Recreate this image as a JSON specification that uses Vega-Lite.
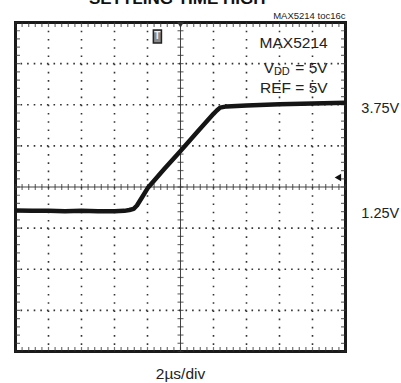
{
  "$schema": "https://vega.github.io/schema/vega-lite/v6.json",
  "width": 330,
  "height": 329,
  "autosize": "none",
  "padding": {"left": 15.5, "top": 22.5, "right": 55.5, "bottom": 31.5},
  "background": "white",
  "config": {"view": {"stroke": "#1a1a1a", "strokeWidth": 3}, "text": {"font": "Liberation Sans"}},
  "datasets": {
    "one": [{}],
    "xs": [{"v":0},{"v":0.2},{"v":0.4},{"v":0.6},{"v":0.8},{"v":1},{"v":1.2},{"v":1.4},{"v":1.6},{"v":1.8},{"v":2},{"v":2.2},{"v":2.4},{"v":2.6},{"v":2.8},{"v":3},{"v":3.2},{"v":3.4},{"v":3.6},{"v":3.8},{"v":4},{"v":4.2},{"v":4.4},{"v":4.6},{"v":4.8},{"v":5},{"v":5.2},{"v":5.4},{"v":5.6},{"v":5.8},{"v":6},{"v":6.2},{"v":6.4},{"v":6.6},{"v":6.8},{"v":7},{"v":7.2},{"v":7.4},{"v":7.6},{"v":7.8},{"v":8},{"v":8.2},{"v":8.4},{"v":8.6},{"v":8.8},{"v":9},{"v":9.2},{"v":9.4},{"v":9.6},{"v":9.8},{"v":10}],
    "ys": [{"v":0},{"v":0.2},{"v":0.4},{"v":0.6},{"v":0.8},{"v":1},{"v":1.2},{"v":1.4},{"v":1.6},{"v":1.8},{"v":2},{"v":2.2},{"v":2.4},{"v":2.6},{"v":2.8},{"v":3},{"v":3.2},{"v":3.4},{"v":3.6},{"v":3.8},{"v":4},{"v":4.2},{"v":4.4},{"v":4.6},{"v":4.8},{"v":5},{"v":5.2},{"v":5.4},{"v":5.6},{"v":5.8},{"v":6},{"v":6.2},{"v":6.4},{"v":6.6},{"v":6.8},{"v":7},{"v":7.2},{"v":7.4},{"v":7.6},{"v":7.8},{"v":8}],
    "gx": [{"v":1},{"v":2},{"v":3},{"v":4},{"v":6},{"v":7},{"v":8},{"v":9}],
    "gy": [{"v":1},{"v":2},{"v":3},{"v":5},{"v":6},{"v":7}],
    "trace": [
      {"t":0,"v":3.43},{"t":0.5,"v":3.42},{"t":1,"v":3.42},{"t":1.5,"v":3.41},{"t":2,"v":3.42},{"t":2.5,"v":3.41},{"t":3,"v":3.41},{"t":3.3,"v":3.42},{"t":3.45,"v":3.44},{"t":3.58,"v":3.47},{"t":3.68,"v":3.55},{"t":3.85,"v":3.77},{"t":4.02,"v":3.99},{"t":4.5,"v":4.43},{"t":4.98,"v":4.86},{"t":5.5,"v":5.33},{"t":6.0,"v":5.78},{"t":6.1,"v":5.86},{"t":6.2,"v":5.93},{"t":6.4,"v":5.96},{"t":7,"v":5.98},{"t":8,"v":6.01},{"t":9,"v":6.03},{"t":10,"v":6.05}
    ]
  },
  "layer": [
    {
      "data": {"name": "gx"},
      "mark": {"type": "rule", "color": "#333", "strokeWidth": 1.6, "strokeDash": [1.6, 6.625]},
      "encoding": {"x": {"field": "v", "type": "quantitative", "scale": {"domain": [0, 10], "nice": false, "zero": false}, "axis": null}}
    },
    {
      "data": {"name": "gy"},
      "mark": {"type": "rule", "color": "#333", "strokeWidth": 1.6, "strokeDash": [1.6, 5.0]},
      "encoding": {"y": {"field": "v", "type": "quantitative", "scale": {"domain": [0, 8], "nice": false, "zero": false}, "axis": null}}
    },
    {
      "data": {"name": "one"},
      "mark": {"type": "rule", "color": "#444", "strokeWidth": 1},
      "encoding": {"x": {"datum": 5, "type": "quantitative"}}
    },
    {
      "data": {"name": "one"},
      "mark": {"type": "rule", "color": "#444", "strokeWidth": 1.2},
      "encoding": {"y": {"datum": 4, "type": "quantitative"}}
    },
    {
      "data": {"name": "xs"},
      "mark": {"type": "tick", "orient": "vertical", "color": "#333", "size": 6, "thickness": 1.2},
      "encoding": {"x": {"field": "v", "type": "quantitative"}, "y": {"datum": 4, "type": "quantitative"}}
    },
    {
      "data": {"name": "ys"},
      "mark": {"type": "tick", "orient": "horizontal", "color": "#333", "size": 6, "thickness": 1.2},
      "encoding": {"y": {"field": "v", "type": "quantitative"}, "x": {"datum": 5, "type": "quantitative"}}
    },
    {
      "data": {"name": "xs"},
      "mark": {"type": "tick", "orient": "vertical", "color": "#333", "size": 9, "thickness": 1.2, "clip": true},
      "encoding": {"x": {"field": "v", "type": "quantitative"}, "y": {"datum": 0, "type": "quantitative"}}
    },
    {
      "data": {"name": "xs"},
      "mark": {"type": "tick", "orient": "vertical", "color": "#333", "size": 9, "thickness": 1.2, "clip": true},
      "encoding": {"x": {"field": "v", "type": "quantitative"}, "y": {"datum": 8, "type": "quantitative"}}
    },
    {
      "data": {"name": "ys"},
      "mark": {"type": "tick", "orient": "horizontal", "color": "#333", "size": 9, "thickness": 1.2, "clip": true},
      "encoding": {"y": {"field": "v", "type": "quantitative"}, "x": {"datum": 0, "type": "quantitative"}}
    },
    {
      "data": {"name": "ys"},
      "mark": {"type": "tick", "orient": "horizontal", "color": "#333", "size": 9, "thickness": 1.2, "clip": true},
      "encoding": {"y": {"field": "v", "type": "quantitative"}, "x": {"datum": 10, "type": "quantitative"}}
    },
    {
      "data": {"name": "trace"},
      "mark": {"type": "line", "color": "#151515", "strokeWidth": 4.5, "strokeJoin": "round"},
      "encoding": {"x": {"field": "t", "type": "quantitative"}, "y": {"field": "v", "type": "quantitative"}}
    },
    {
      "data": {"name": "one"},
      "mark": {"type": "point", "shape": "M-0.62,-1L0.62,-1L0.62,1L-0.62,1Z", "size": 170, "filled": true, "fill": "#8a8a8a", "stroke": "#222", "strokeWidth": 1.5, "opacity": 1},
      "encoding": {"x": {"datum": 4.3, "type": "quantitative"}, "y": {"datum": 7.66, "type": "quantitative"}}
    },
    {
      "data": {"name": "one"},
      "mark": {"type": "text", "text": "T", "fontSize": 10, "fontWeight": "bold", "color": "#eee", "align": "center", "baseline": "middle"},
      "encoding": {"x": {"datum": 4.3, "type": "quantitative"}, "y": {"datum": 7.66, "type": "quantitative"}}
    },
    {
      "data": {"name": "one"},
      "mark": {"type": "point", "shape": "triangle-down", "size": 45, "filled": true, "color": "#333", "opacity": 1},
      "encoding": {"x": {"datum": 5, "type": "quantitative"}, "y": {"datum": 7.94, "type": "quantitative"}}
    },
    {
      "data": {"name": "one"},
      "mark": {"type": "point", "shape": "triangle-left", "size": 55, "filled": true, "color": "#111", "opacity": 1},
      "encoding": {"x": {"datum": 9.77, "type": "quantitative"}, "y": {"datum": 4.23, "type": "quantitative"}}
    },
    {
      "data": {"name": "one"},
      "mark": {"type": "text", "text": "SETTLING TIME HIGH", "fontSize": 17, "fontWeight": "bold", "color": "#111", "align": "center", "baseline": "alphabetic"},
      "encoding": {"x": {"datum": 4.9, "type": "quantitative"}, "y": {"datum": 8.455, "type": "quantitative"}}
    },
    {
      "data": {"name": "one"},
      "mark": {"type": "text", "text": "MAX5214 toc16c", "fontSize": 9.5, "color": "#222", "align": "right", "baseline": "alphabetic"},
      "encoding": {"x": {"datum": 10, "type": "quantitative"}, "y": {"datum": 8.08, "type": "quantitative"}}
    },
    {
      "data": {"name": "one"},
      "mark": {"type": "text", "text": "MAX5214", "fontSize": 15.5, "color": "#222", "align": "right", "baseline": "alphabetic"},
      "encoding": {"x": {"datum": 9.46, "type": "quantitative"}, "y": {"datum": 7.38, "type": "quantitative"}}
    },
    {
      "data": {"name": "one"},
      "mark": {"type": "text", "text": "= 5V", "fontSize": 15.5, "color": "#222", "align": "right", "baseline": "alphabetic"},
      "encoding": {"x": {"datum": 9.46, "type": "quantitative"}, "y": {"datum": 6.77, "type": "quantitative"}}
    },
    {
      "data": {"name": "one"},
      "mark": {"type": "text", "text": "V", "fontSize": 15.5, "color": "#222", "align": "left", "baseline": "alphabetic"},
      "encoding": {"x": {"datum": 7.52, "type": "quantitative"}, "y": {"datum": 6.77, "type": "quantitative"}}
    },
    {
      "data": {"name": "one"},
      "mark": {"type": "text", "text": "DD", "fontSize": 11, "color": "#222", "align": "left", "baseline": "alphabetic"},
      "encoding": {"x": {"datum": 7.83, "type": "quantitative"}, "y": {"datum": 6.73, "type": "quantitative"}}
    },
    {
      "data": {"name": "one"},
      "mark": {"type": "text", "text": "REF = 5V", "fontSize": 15.5, "color": "#222", "align": "right", "baseline": "alphabetic"},
      "encoding": {"x": {"datum": 9.46, "type": "quantitative"}, "y": {"datum": 6.28, "type": "quantitative"}}
    },
    {
      "data": {"name": "one"},
      "mark": {"type": "text", "text": "3.75V", "fontSize": 14.5, "color": "#222", "align": "left", "baseline": "alphabetic"},
      "encoding": {"x": {"datum": 10.48, "type": "quantitative"}, "y": {"datum": 5.8, "type": "quantitative"}}
    },
    {
      "data": {"name": "one"},
      "mark": {"type": "text", "text": "1.25V", "fontSize": 14.5, "color": "#222", "align": "left", "baseline": "alphabetic"},
      "encoding": {"x": {"datum": 10.48, "type": "quantitative"}, "y": {"datum": 3.24, "type": "quantitative"}}
    },
    {
      "data": {"name": "one"},
      "mark": {"type": "text", "text": "2µs/div", "fontSize": 15.5, "color": "#222", "align": "center", "baseline": "alphabetic"},
      "encoding": {"x": {"datum": 5, "type": "quantitative"}, "y": {"datum": -0.66, "type": "quantitative"}}
    }
  ]
}
